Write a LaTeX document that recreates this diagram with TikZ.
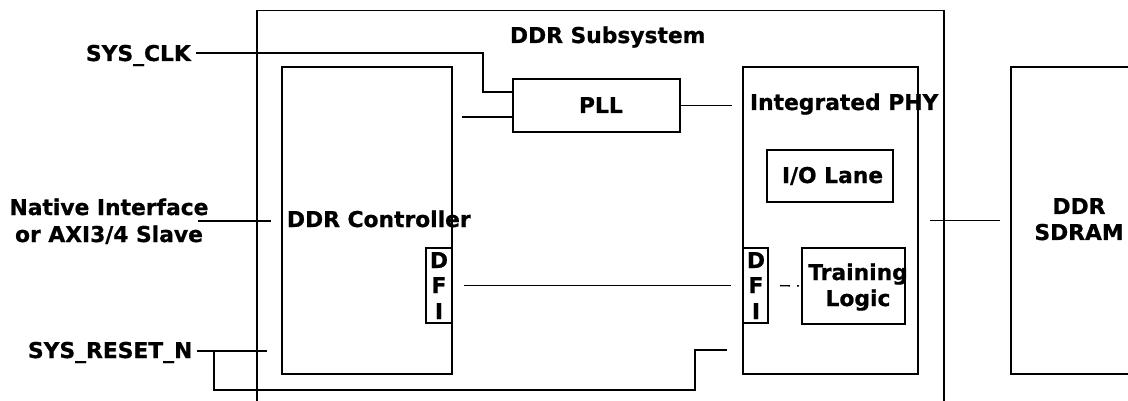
\documentclass[tikz,border=0pt]{standalone}
\usepackage{fontspec}
\setmainfont{DejaVu Sans}[BoldFeatures={FakeBold=0.8}]
\usetikzlibrary{calc}
\begin{document}
\begin{tikzpicture}[x=1pt,y=-1pt,
  box/.style={draw, line width=1.4pt, rectangle, anchor=north west, inner sep=0pt, outer sep=0pt},
  lbl/.style={inner sep=0pt, outer sep=0pt, font=\bfseries\fontsize{21.8}{26}\selectfont},
  wire/.style={line width=1.4pt}]
\useasboundingbox (0,0) rectangle (1128,401);
\fill[white] (0,0) rectangle (1128,401);
% boxes
\node[box, minimum width=687pt, minimum height=400pt] (sub) at (257,10.7) {};
\node[box, minimum width=170pt, minimum height=307pt] (ctl) at (282,67) {};
\node[box, minimum width=167pt, minimum height=53pt] (pll) at (513,79) {};
\node[box, minimum width=175pt, minimum height=307pt] (phy) at (743,67) {};
\node[box, minimum width=126pt, minimum height=52pt] (io) at (767,150) {};
\node[box, minimum width=140pt, minimum height=307pt] (sdram) at (1011,67) {};
\node[box, minimum width=26pt, minimum height=75pt] (cdfi) at (426,248) {};
\node[box, minimum width=25pt, minimum height=75pt] (pdfi) at (743,248) {};
\node[box, minimum width=103pt, minimum height=76pt] (train) at (802,248) {};
% labels
\node[lbl, anchor=base west] (title) at (510,43) {DDR Subsystem};
\node[lbl, anchor=base west] (clk) at (86,61) {SYS\_CLK};
\node[lbl, anchor=base west] (plltxt) at (579,113) {PLL};
\node[lbl, anchor=base west] (phytxt) at (750,110) {Integrated PHY};
\node[lbl, anchor=base west] (iotxt) at (782,183) {I/O Lane};
\node[lbl, anchor=base] (nat1) at (109,215) {Native Interface};
\node[lbl, anchor=base] (nat2) at (109,242) {or AXI3/4 Slave};
\node[lbl, anchor=base west] (ctltxt) at (287,227) {DDR Controller};
\node[lbl, anchor=base] (cd) at (439,268) {D};
\node[lbl, anchor=base] (cf) at (439,293) {F};
\node[lbl, anchor=base] (ci) at (439,319) {I};
\node[lbl, anchor=base] (pd) at (756,268) {D};
\node[lbl, anchor=base] (pf) at (756,293) {F};
\node[lbl, anchor=base] (pi) at (756,319) {I};
\node[lbl, anchor=base] (tr1) at (858,280) {Training};
\node[lbl, anchor=base] (tr2) at (858,306) {Logic};
\node[lbl, anchor=base west] (rst) at (28,358) {SYS\_RESET\_N};
\node[lbl, anchor=base] (sd1) at (1079,214) {DDR};
\node[lbl, anchor=base] (sd2) at (1079,240) {SDRAM};
% connectors
\coordinate (clkout) at (196,53);
\coordinate (natout) at (198,221);
\coordinate (rstout) at (197,351);
\coordinate (br) at (214,351);
\draw[wire] (clkout) -| (483,92) -- (pll.west |- 0,92);
\draw[wire, shorten >=10pt] (pll.west |- 0,117) -- (ctl.east |- 0,117);
\draw[wire, shorten >=11pt] (pll.east) -- (phy.west |- pll.east);
\draw[wire, shorten >=11pt] (natout) -- (ctl.west |- natout);
\draw[wire, shorten <=12pt, shorten >=12pt] (cdfi.east) -- (pdfi.west);
\draw[wire, dash pattern=on 10pt off 7pt on 2pt off 30pt, shorten <=12pt, shorten >=3pt] (pdfi.east) -- (train.west);
\draw[wire, shorten >=15pt] (rstout) -- (ctl.west |- rstout);
\draw[wire, shorten >=16pt] (br) -- (214,390) -- (695,390) -- (695,350) -- (phy.west |- 0,350);
\draw[wire, shorten <=12pt, shorten >=11pt] (phy.east) -- (sdram.west);
\end{tikzpicture}
\end{document}
